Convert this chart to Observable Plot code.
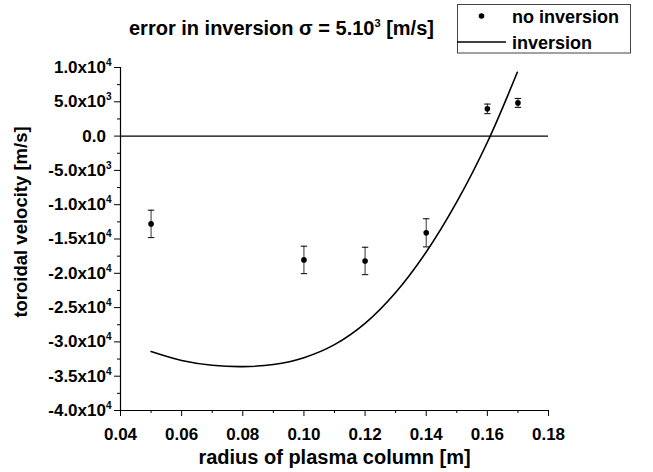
<!DOCTYPE html>
<html>
<head>
<meta charset="utf-8">
<script src="https://cdn.jsdelivr.net/npm/d3@7"></script>
<script src="https://cdn.jsdelivr.net/npm/@observablehq/plot@0.6"></script>
<style>
  html, body { margin: 0; padding: 0; background: #fff; }
  #wrap { position: relative; width: 653px; height: 472px; font-family: "Liberation Sans", Arial, sans-serif; }
  #overlay { position: absolute; left: 0; top: 0; pointer-events: none; }
</style>
</head>
<body>
<div id="wrap">
  <div id="chart"></div>
  <svg id="overlay" width="653" height="60" xmlns="http://www.w3.org/2000/svg"
       font-family="Liberation Sans, Arial, sans-serif" font-weight="bold">
    <text x="129" y="35" font-size="20" fill="#000">error in inversion σ = 5.10<tspan font-size="11" dy="-8">3</tspan><tspan dy="8"> [m/s]</tspan></text>
    <rect x="457.5" y="4.5" width="173" height="48.5" fill="#fff" stroke="#444" stroke-width="1"></rect>
    <circle cx="481.5" cy="16" r="2.8" fill="#000"></circle>
    <line x1="457" x2="506" y1="42" y2="42" stroke="#000" stroke-width="1.6"></line>
    <text x="512" y="23" font-size="18" fill="#000">no inversion</text>
    <text x="512" y="48.5" font-size="18" fill="#000">inversion</text>
  </svg>
</div>
<script>
// ---- data ----
const radius   = [0.05, 0.10, 0.12, 0.14, 0.16, 0.17];
const velocity = [-12800, -18050, -18200, -14100, 3970, 4840];
const errorBar = [2000, 2000, 2000, 2050, 700, 650];

const invRadius   = [0.05, 0.06, 0.07, 0.08, 0.09, 0.10, 0.11, 0.12, 0.13, 0.14, 0.15, 0.16, 0.1698];
const invVelocity = [-31400, -32700, -33400, -33600, -33300, -32300, -30400, -27300, -22800, -16900, -9600, -900, 9300];

const xTicks = [0.04, 0.06, 0.08, 0.10, 0.12, 0.14, 0.16, 0.18];
const xMinor = [0.05, 0.07, 0.09, 0.11, 0.13, 0.15, 0.17];
const yTicks = [10000, 5000, 0, -5000, -10000, -15000, -20000, -25000, -30000, -35000, -40000];
const yTickLabels = ["1.0x10^4", "5.0x10^3", "0.0", "-5.0x10^3", "-1.0x10^4", "-1.5x10^4", "-2.0x10^4", "-2.5x10^4", "-3.0x10^4", "-3.5x10^4", "-4.0x10^4"];
const yMinor = [7500, 2500, -2500, -7500, -12500, -17500, -22500, -27500, -32500, -37500];

const xLabel = "radius of plasma column [m]";
const yLabel = "toroidal velocity [m/s]";

const points = radius.map((r, i) => ({x: r, y: velocity[i], lo: velocity[i] - errorBar[i], hi: velocity[i] + errorBar[i]}));
const curve = invRadius.map((r, i) => ({x: r, y: invVelocity[i]}));

const capSymbol = {
  draw(ctx, size) {
    const h = Math.sqrt(size / Math.PI);
    ctx.moveTo(-h, 0);
    ctx.lineTo(h, 0);
  }
};

const chart = Plot.plot({
  width: 653,
  height: 472,
  marginLeft: 120,
  marginRight: 105,
  marginTop: 67,
  marginBottom: 62,
  style: {fontFamily: "Liberation Sans, Arial, sans-serif", fontWeight: "bold", fontSize: "17px", color: "#000", background: "#fff", overflow: "visible"},
  x: {domain: [0.04, 0.18]},
  y: {domain: [-40000, 10000]},
  marks: [
    Plot.axisX({ticks: xTicks, tickSize: 6, tickPadding: 11, tickFormat: d => d.toFixed(2), label: null}),
    Plot.axisX({ticks: xMinor, tickSize: 3, tickFormat: () => "", label: null}),
    Plot.axisY({ticks: yTicks, tickSize: 6, tickPadding: 3, tickFormat: d => yTickLabels[yTicks.indexOf(d)], label: null}),
    Plot.axisY({ticks: yMinor, tickSize: 3, tickFormat: () => "", label: null}),
    Plot.ruleX([0.04], {stroke: "#000", strokeWidth: 1.2}),
    Plot.ruleY([-40000], {stroke: "#000", strokeWidth: 1.2}),
    Plot.ruleY([0], {stroke: "#000", strokeWidth: 1.4}),
    Plot.ruleX(points, {x: "x", y1: "lo", y2: "hi", stroke: "#333", strokeWidth: 1}),
    Plot.dot(points, {x: "x", y: "lo", symbol: capSymbol, r: 3.2, stroke: "#000", strokeWidth: 1}),
    Plot.dot(points, {x: "x", y: "hi", symbol: capSymbol, r: 3.2, stroke: "#000", strokeWidth: 1}),
    Plot.dot(points, {x: "x", y: "y", r: 2.8, fill: "#000", stroke: "none"}),
    Plot.line(curve, {x: "x", y: "y", curve: "catmull-rom", stroke: "#000", strokeWidth: 1.6}),
    Plot.text([xLabel], {frameAnchor: "bottom", dy: 47, text: d => d, fontSize: 20, fontWeight: "bold", textAnchor: "middle", lineAnchor: "middle", fill: "#000"}),
    Plot.text([yLabel], {frameAnchor: "left", dx: -99, dy: -17, rotate: -90, text: d => d, fontSize: 18.5, fontWeight: "bold", textAnchor: "middle", lineAnchor: "middle", fill: "#000"})
  ]
});

document.getElementById("chart").appendChild(chart);

// superscript exponents in y tick labels (labels without exponent get a hidden spacer so bases align)
chart.querySelectorAll('g[aria-label="y-axis tick label"] text').forEach(t => {
  const s = t.textContent;
  if (!s) return;
  const [base, exp] = s.includes("^") ? s.split("^") : [s, null];
  t.textContent = "";
  t.appendChild(document.createTextNode(base));
  const sup = document.createElementNS("http://www.w3.org/2000/svg", "tspan");
  sup.setAttribute("font-size", "10");
  sup.setAttribute("dy", "-7");
  if (exp === null) {
    sup.setAttribute("visibility", "hidden");
    sup.textContent = "0";
  } else {
    sup.textContent = exp;
  }
  t.appendChild(sup);
});
</script>
</body>
</html>
